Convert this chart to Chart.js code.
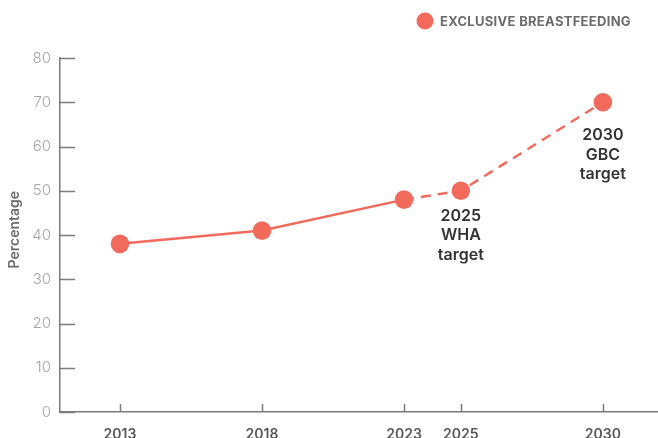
<!DOCTYPE html>
<html lang="en">
<head>
<meta charset="UTF-8">
<title>Exclusive breastfeeding</title>
<script src="https://cdn.jsdelivr.net/npm/chart.js"></script>
<style>
  html, body { margin: 0; padding: 0; background: #fff; overflow: hidden; }
  .wrap { width: 658px; height: 438px; position: relative; }
  canvas { display: block; }
</style>
</head>
<body>
<div class="wrap"><canvas id="chart"></canvas></div>
<script>
// data
const years = [2013, 2018, 2023, 2025, 2030];
const breastfeeding = [38, 41, 48, 50, 70];
const seriesLabel = 'EXCLUSIVE BREASTFEEDING';
const yTicks = [0, 10, 20, 30, 40, 50, 60, 70, 80];
const targetYears = [2025, 2030];
const targetValues = [50, 70];
const targetLabels = [['2025', 'WHA', 'target'], ['2030', 'GBC', 'target']];

const RED = '#f26a5c';
const AXIS = '#7b7b7b';
const FONT = 'Inter, "Noto Sans", sans-serif';

// short tick marks drawn inside the axes, target notes and the legend
const extras = {
  id: 'extras',
  beforeDatasetsDraw(chart) {
    const { ctx, scales: { x, y } } = chart;
    ctx.save();
    ctx.strokeStyle = AXIS;
    ctx.lineWidth = 1.5;
    ctx.beginPath();
    y.ticks.forEach(t => {
      const py = Math.round(y.getPixelForValue(t.value)) + 0.5;
      ctx.moveTo(x.left, py);
      ctx.lineTo(x.left + 15, py);
    });
    x.ticks.forEach(t => {
      const px = Math.round(x.getPixelForValue(t.value)) + 0.5;
      ctx.moveTo(px, y.bottom - 8);
      ctx.lineTo(px, y.bottom);
    });
    ctx.stroke();
    ctx.restore();
  },
  afterDraw(chart) {
    const { ctx, scales: { x, y } } = chart;
    ctx.save();
    // target notes under the points
    const offsets = [25, 33];
    ctx.fillStyle = '#333333';
    ctx.font = '600 16px ' + FONT;
    ctx.textAlign = 'center';
    ctx.textBaseline = 'middle';
    targetYears.forEach((yr, i) => {
      const px = x.getPixelForValue(yr);
      const py = y.getPixelForValue(targetValues[i]);
      targetLabels[i].forEach((line, j) => {
        ctx.fillText(line, px, py + offsets[i] + j * 19.5);
      });
    });
    // legend
    ctx.fillStyle = chart.data.datasets[0].backgroundColor;
    ctx.beginPath();
    ctx.arc(425, 21, 8.5, 0, Math.PI * 2);
    ctx.fill();
    ctx.fillStyle = '#6c6c70';
    ctx.font = '700 13px ' + FONT;
    ctx.letterSpacing = '0.3px';
    ctx.textAlign = 'left';
    ctx.fillText(chart.data.datasets[0].label, 440, 22);
    ctx.restore();
  }
};

new Chart(document.getElementById('chart'), {
  type: 'line',
  data: {
    datasets: [{
      label: seriesLabel,
      data: years.map((yr, i) => ({ x: yr, y: breastfeeding[i] })),
      borderColor: RED,
      backgroundColor: RED,
      borderWidth: 2.5,
      pointRadius: 9.3,
      pointHoverRadius: 9.3,
      pointBorderWidth: 0,
      tension: 0,
      segment: {
        borderDash: c => c.p0DataIndex >= 2 ? [10, 7] : undefined
      }
    }]
  },
  options: {
    responsive: true,
    maintainAspectRatio: false,
    animation: false,
    layout: { autoPadding: false, padding: { top: 58, left: 0, right: 0, bottom: 0 } },
    plugins: {
      legend: { display: false },
      tooltip: { enabled: false }
    },
    scales: {
      x: {
        type: 'linear',
        min: 2010.89,
        max: 2031.94,
        afterBuildTicks: s => { s.ticks = years.map(v => ({ value: v })); },
        afterFit: s => { s.height = 26; s.paddingLeft = 0; s.paddingRight = 0; },
        grid: { drawOnChartArea: false, drawTicks: false },
        border: { color: AXIS, width: 1.5 },
        ticks: {
          padding: 14,
          color: '#58585c',
          font: { family: FONT, size: 14, weight: '600' },
          callback: v => String(v),
          maxRotation: 0
        }
      },
      y: {
        min: 0,
        max: 80,
        afterBuildTicks: s => { s.ticks = yTicks.map(v => ({ value: v })); },
        afterFit: s => { s.width = 60; },
        grid: { drawOnChartArea: false, drawTicks: false },
        border: { color: AXIS, width: 1.5 },
        title: {
          display: true,
          text: '   Percentage',
          color: '#6a6a6e',
          font: { family: FONT, size: 14, weight: '600' },
          padding: { top: 6, bottom: 0 }
        },
        ticks: {
          padding: 9,
          color: '#a5a5a8',
          font: { family: FONT, size: 15, weight: '300' }
        }
      }
    }
  },
  plugins: [extras]
});
</script>
</body>
</html>
